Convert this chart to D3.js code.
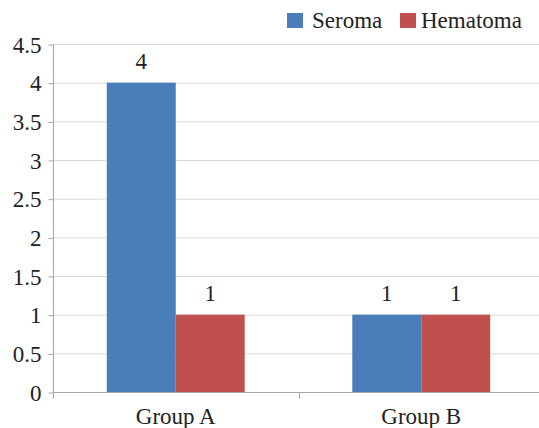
<!DOCTYPE html>
<html><head><meta charset="utf-8">
<script src="https://cdn.jsdelivr.net/npm/d3@7"></script>
<style>body{margin:0;background:#fff}svg{display:block}svg text{font-family:'Liberation Serif','Times New Roman',serif}</style>
</head><body>
<svg id="c" width="539" height="428"></svg>
<script>
const categories = ["Group A", "Group B"];
const seriesNames = ["Seroma", "Hematoma"];
const seroma = [4, 1];
const hematoma = [1, 1];
const yTicks = [0, 0.5, 1, 1.5, 2, 2.5, 3, 3.5, 4, 4.5];
const colors = ["#4a7ebb", "#c0504d"];

const svg = d3.select("#c");
const font = "'Liberation Serif', 'Times New Roman', serif";
const fs = 23;
const mLeft = 53, mRight = 544, mTop = 44, mBottom = 392;

const y = d3.scaleLinear().domain([0, 4.5]).range([mBottom, mTop]);
const x0 = d3.scaleBand().domain(categories).range([mLeft, mRight]).paddingInner(0).paddingOuter(0);
const x1 = d3.scaleBand().domain(seriesNames).range([0, x0.bandwidth()]).paddingOuter(0.78).paddingInner(0);

// gridlines
svg.append("g").selectAll("line").data(yTicks.filter(d => d > 0)).join("line")
  .attr("x1", mLeft).attr("x2", mRight)
  .attr("y1", d => y(d) + 0.5).attr("y2", d => y(d) + 0.5)
  .attr("stroke", "#d9d9d9").attr("stroke-width", 1);

// bars
const data = categories.map((c, i) => ({cat: c, vals: [seroma[i], hematoma[i]]}));
const g = svg.append("g");
data.forEach(d => {
  d.vals.forEach((v, j) => {
    const bx = x0(d.cat) + x1(seriesNames[j]);
    g.append("rect")
      .attr("x", bx).attr("y", y(v))
      .attr("width", x1.bandwidth()).attr("height", y(0) - y(v))
      .attr("fill", colors[j]);
    g.append("text")
      .attr("x", bx + x1.bandwidth() / 2).attr("y", y(v) - 14)
      .attr("text-anchor", "middle")
      .style("font-family", font).style("font-size", fs + "px").attr("fill", "#222")
      .text(v);
  });
});

// y axis
const yAxis = d3.axisLeft(y).tickValues(yTicks).tickSize(5).tickPadding(7)
  .tickFormat(d => String(d));
const ya = svg.append("g").attr("transform", `translate(${mLeft + 0.5},0.5)`).call(yAxis);
ya.attr("font-family", null).attr("font-size", null);
ya.select(".domain").attr("stroke", "#a6a6a6").attr("d", `M0,${mTop}V${mBottom + 5}`);
ya.selectAll(".tick line").attr("stroke", "#a6a6a6");
ya.selectAll(".tick text").style("font-family", font).style("font-size", fs + "px").attr("fill", "#222")
  .attr("dy", "0.33em");

// x axis
const xa = svg.append("g").attr("transform", `translate(0,${mBottom + 0.5})`);
xa.append("line").attr("x1", mLeft).attr("x2", mRight).attr("stroke", "#a6a6a6");
xa.selectAll("line.sep").data(d3.range(categories.length + 1)).join("line").attr("class", "sep")
  .attr("x1", i => Math.round(mLeft + i * x0.bandwidth()) + 0.5)
  .attr("x2", i => Math.round(mLeft + i * x0.bandwidth()) + 0.5)
  .attr("y1", 0).attr("y2", 6).attr("stroke", "#a6a6a6");
xa.selectAll("text").data(categories).join("text")
  .attr("x", d => x0(d) + x0.bandwidth() / 2).attr("y", 31)
  .attr("text-anchor", "middle")
  .style("font-family", font).style("font-size", fs + "px").attr("fill", "#222")
  .text(d => d);

// legend
const legX = [287, 400];
const lg = svg.append("g");
seriesNames.forEach((s, i) => {
  lg.append("rect").attr("x", legX[i]).attr("y", 13).attr("width", 16).attr("height", 15).attr("fill", colors[i]);
  lg.append("text").attr("x", legX[i] + (i === 0 ? 25 : 21)).attr("y", 28)
    .style("font-family", font).style("font-size", fs + "px").attr("fill", "#222").text(s);
});
</script>
</body></html>
